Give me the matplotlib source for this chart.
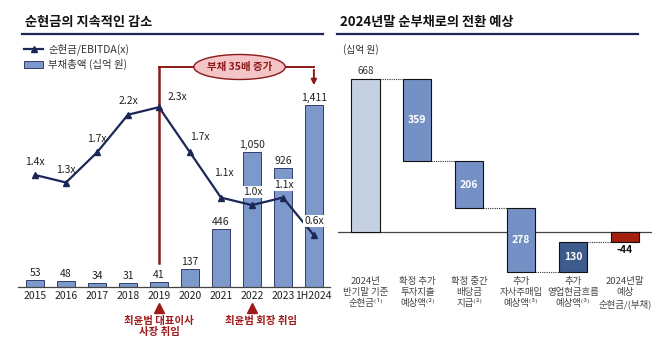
#------------------------------------------------------------------------------------------------------------------
#   Net cash trend + waterfall to year-end 2024
#------------------------------------------------------------------------------------------------------------------

import numpy as np
import matplotlib.pyplot as plt
from matplotlib.lines import Line2D
from matplotlib.patches import Patch, Ellipse
import matplotlib.transforms as mtransforms

plt.rcParams['font.family'] = ['Noto Sans CJK KR', 'DejaVu Sans']

#------------------------------------------------------------------------------------------------------------------
#   Data
#------------------------------------------------------------------------------------------------------------------
years = ['2015', '2016', '2017', '2018', '2019', '2020', '2021', '2022', '2023', '1H2024']
debt_total = [53, 48, 34, 31, 41, 137, 446, 1050, 926, 1411]
cash_ebitda = [1.4, 1.3, 1.7, 2.2, 2.3, 1.7, 1.1, 1.0, 1.1, 0.6]

wf_labels = ['2024년\n반기말 기준\n순현금⁽¹⁾', '확정 추가\n투자지출\n예상액⁽²⁾', '확정 중간\n배당금\n지급⁽²⁾',
             '추가\n자사주매입\n예상액⁽³⁾', '추가\n영업현금흐름\n예상액⁽³⁾', '2024년말\n예상\n순현금/(부채)']
wf_steps = [668, -359, -206, -278, 130]
wf_end = -44

W, H = 658, 339
navy = '#1c2758'
bar_blue = '#7d99cb'
dark_red = '#8b1a1a'

fig = plt.figure(figsize=(W/100, H/100), dpi=100)

def px_box(x0, y0, x1, y1):
    # pixel box (top-left origin) -> figure fraction rect
    return [x0/W, 1 - y1/H, (x1 - x0)/W, (y1 - y0)/H]

#------------------------------------------------------------------------------------------------------------------
#   Titles
#------------------------------------------------------------------------------------------------------------------
fig.text(25/W, 1 - 22/H, '순현금의 지속적인 감소', fontsize=9.5, fontweight='bold', color='#111111', va='center')
fig.text(340/W, 1 - 22/H, '2024년말 순부채로의 전환 예상', fontsize=9.5, fontweight='bold', color='#111111', va='center')
fig.add_artist(Line2D([22/W, 323/W], [1 - 34/H, 1 - 34/H], color=navy, lw=1.6))
fig.add_artist(Line2D([337/W, 638/W], [1 - 34/H, 1 - 34/H], color=navy, lw=1.6))

#------------------------------------------------------------------------------------------------------------------
#   Left chart
#------------------------------------------------------------------------------------------------------------------
ax = fig.add_axes(px_box(18, 62, 330, 287))
x = np.arange(len(years))
ax.bar(x, debt_total, width=0.56, color=bar_blue, edgecolor=navy, linewidth=0.6, zorder=2)
for xi, v in zip(x, debt_total):
    ax.annotate(f'{v:,}', (xi, v), xytext=(0, 2), textcoords='offset pixels',
                ha='center', va='bottom', fontsize=7.5, color='#222222')
ax.set_xlim(-0.55, 9.52)
ax.set_ylim(0, 225*7.75)
ax.set_xticks(x, years, fontsize=7.5, color='#222222')
ax.tick_params(axis='x', length=0, pad=3)
ax.set_yticks([])
for s in ['top', 'right', 'left']:
    ax.spines[s].set_visible(False)
ax.spines['bottom'].set_color('#444444')
ax.spines['bottom'].set_linewidth(0.9)

# bracket "부채 35배 증가"
yb = (287 - 67)*7.75
ax.plot([4, 4], [(287 - 263)*7.75, yb], color=dark_red, lw=1.8, clip_on=False, zorder=1)
ax.plot([4, 9], [yb, yb], color=dark_red, lw=1.4, clip_on=False, zorder=1)
ax.annotate('', xy=(9, (287 - 88)*7.75), xytext=(9, yb),
            arrowprops=dict(arrowstyle='-|>', color=dark_red, lw=1.4, mutation_scale=8), annotation_clip=False)
ell = Ellipse((6.6, yb), 2.95, 25*7.75, facecolor='#f5c4c6', edgecolor=dark_red, lw=1.0, clip_on=False, zorder=3)
ax.add_patch(ell)
ax.text(6.6, yb, '부채 35배 증가', ha='center', va='center', fontsize=7.5, fontweight='bold', color=dark_red, zorder=4)

# line on secondary axis
ax2 = ax.twinx()
ax2.set_ylim(-0.0875, 2.9)
ax2.axis('off')
ax2.plot(x, cash_ebitda, color=navy, lw=1.6, marker='^', markersize=4, zorder=5)
offsets = [(0, 13), (0, 13), (0, 13), (0, 14), (18, 10), (10, 15), (3, 25), (1, 13), (1, 13), (0, 14)]
for xi, v, off in zip(x, cash_ebitda, offsets):
    bb = dict(boxstyle='square,pad=0.1', fc='white', ec='none') if xi >= 7 else None
    ax2.annotate(f'{v:.1f}x', (xi, v), xytext=off, textcoords='offset pixels',
                 ha='center', va='center', fontsize=7.5, color='#222222', bbox=bb, zorder=6)

# notes under axis
trans = mtransforms.blended_transform_factory(ax.transData, ax.transAxes)
for xi in [4, 7]:
    ax.plot([xi], [-0.093], marker='^', color='#a01a1a', markersize=6.5, transform=trans, clip_on=False)
ax.text(4, -0.128, '최윤범 대표이사\n사장 취임', transform=trans, ha='center', va='top', fontsize=7.5,
        fontweight='bold', color='#a01a1a', linespacing=1.1)
ax.text(7.3, -0.128, '최윤범 회장 취임', transform=trans, ha='center', va='top', fontsize=7.5,
        fontweight='bold', color='#a01a1a')

# legend
handles = [Line2D([0], [0], color=navy, lw=1.6, marker='^', markersize=4),
           Patch(facecolor=bar_blue, edgecolor=navy, linewidth=0.6)]
fig.legend(handles, ['순현금/EBITDA(x)', '부채총액 (십억 원)'], loc='upper left',
           bbox_to_anchor=(20/W, 1 - 39/H), frameon=False, fontsize=7.5, handlelength=1.8,
           handletextpad=0.5, labelspacing=0.45, borderaxespad=0, labelcolor='#333333')

#------------------------------------------------------------------------------------------------------------------
#   Right chart (waterfall)
#------------------------------------------------------------------------------------------------------------------
ar = fig.add_axes(px_box(338, 62, 652, 320))
u = 4.37
ar.set_xlim(-0.53, 5.52)
ar.set_ylim(-(320 - 232)*u, (232 - 62)*u)
ar.axis('off')
ar.axhline(0, color='#444444', lw=0.9, zorder=1)

wf_colors = ['#c5d1e3', '#7490c4', '#7490c4', '#7490c4', '#3e5b8d']
bw = 0.54
cum = 0
levels = []
for i, (d, c) in enumerate(zip(wf_steps, wf_colors)):
    lo, hi = min(cum, cum + d), max(cum, cum + d)
    ar.bar(i, hi - lo, bottom=lo, width=bw, color=c, edgecolor='#111111', linewidth=0.8, zorder=2)
    if i == 0:
        ar.text(i, hi + 3*u, f'{d}', ha='center', va='bottom', fontsize=7, color='#333333')
    else:
        ar.text(i, (lo + hi)/2, f'{abs(d)}', ha='center', va='center', fontsize=7.5,
                fontweight='bold', color='white', zorder=3)
    cum += d
    levels.append(cum)
ne = len(wf_steps)
ar.bar(ne, wf_end, width=bw, color='#a3200f', edgecolor='#111111', linewidth=0.8, zorder=2)
ar.text(ne, wf_end - 3*u, f'{wf_end}', ha='center', va='top', fontsize=7.5, fontweight='bold', color='#111111')
levels[-1] = wf_end
for i, lv in enumerate(levels):
    ar.plot([i + bw/2, i + 1 - bw/2], [lv, lv], color='#333333', lw=0.8, ls=(0, (1, 1)), zorder=1)

for i, lab in enumerate(wf_labels):
    ar.text(i, -(277 - 232)*u, lab, ha='center', va='top', fontsize=6.8, color='#444444', linespacing=1.3)

fig.text(343/W, 1 - 50/H, '(십억 원)', fontsize=7, color='#333333', va='center')

plt.savefig('out.png', dpi=100)
